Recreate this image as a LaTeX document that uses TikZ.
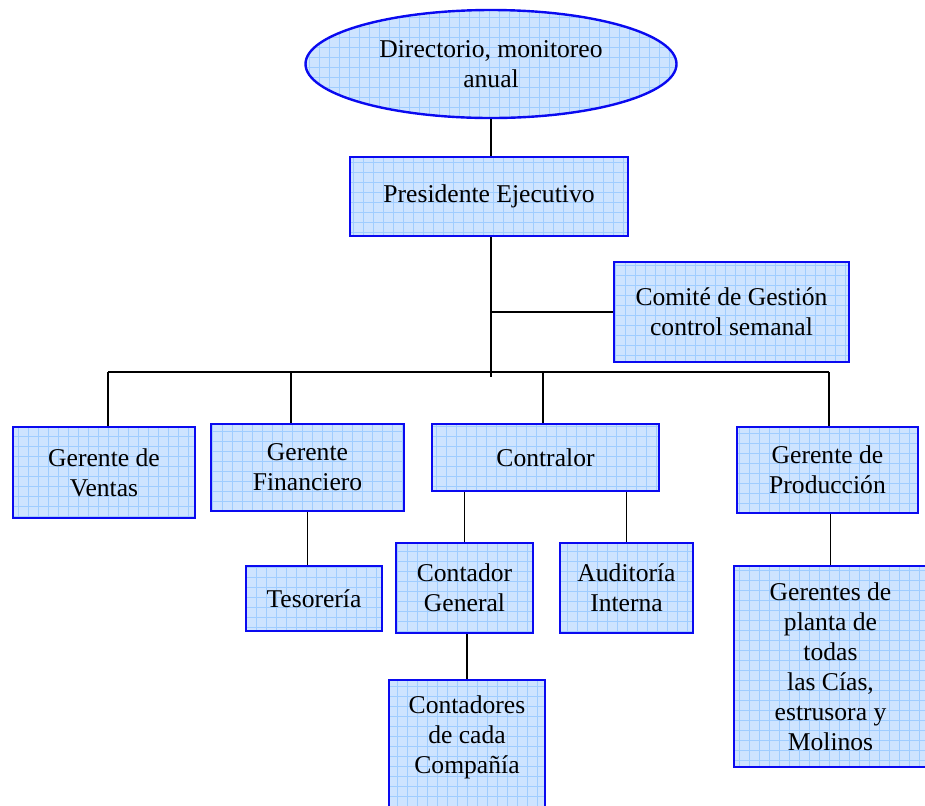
\documentclass[tikz,border=0pt]{standalone}
\usepackage{fontspec}
\setmainfont{Liberation Serif}
\usetikzlibrary{shapes.geometric}

\definecolor{fondo}{RGB}{206,228,255}
\definecolor{rejilla}{RGB}{160,205,255}
\definecolor{borde}{RGB}{10,10,240}

\begin{document}
\begin{tikzpicture}[x=0.5pt,y=-0.5pt,thick,
  caja/.style={rectangle,draw=borde,line width=1.2pt,fill=fondo,align=center,inner sep=0pt,
    font=\fontsize{12.8}{15}\selectfont,
    path picture={\draw[rejilla,line width=0.3pt] ([shift={(-2pt,-2pt)}]path picture bounding box.south west)
      grid[step=5pt] (path picture bounding box.north east);}},
  elipse/.style={caja,ellipse}]

 \useasboundingbox (0,0) rectangle (925,805);

 \node[elipse,minimum width=185.5pt,minimum height=54pt] (dir) at (491,64) {Directorio, monitoreo\\anual};
 \node[caja,minimum width=139pt,minimum height=39.5pt] (pres) at (489,196.5) {Presidente Ejecutivo};
 \node[caja,minimum width=117.5pt,minimum height=50pt] (comite) at (731.5,312) {Comité de Gestión\\control semanal};

 \node[caja,minimum width=91pt,minimum height=45.5pt] (ventas) at (104,472.5) {Gerente de\\Ventas};
 \node[caja,minimum width=96.5pt,minimum height=43.5pt] (financ) at (307.5,467.5) {Gerente\\Financiero};
 \node[caja,minimum width=113.5pt,minimum height=33.5pt] (contralor) at (545.5,457.5) {Contralor};
 \node[caja,minimum width=90.5pt,minimum height=43pt] (prod) at (827.5,470) {Gerente de\\Producción};

 \node[caja,minimum width=68pt,minimum height=32.5pt] (teso) at (314,598.5) {Tesorería};
 \node[caja,minimum width=68.5pt,minimum height=45pt] (contador) at (464.5,588) {Contador\\General};
 \node[caja,minimum width=66.5pt,minimum height=45pt] (auditoria) at (626.5,588) {Auditoría\\Interna};
 \node[caja,minimum width=78pt,minimum height=66pt,
   label={[font=\fontsize{12.8}{15}\selectfont,align=center,yshift=4.5pt]center:Contadores\\de cada\\Compañía}]
   (contadores) at (467,746) {};
 \node[caja,minimum width=96.5pt,minimum height=100.5pt] (planta) at (830.5,666.5)
   {Gerentes de\\planta de\\todas\\las Cías,\\estrusora y\\Molinos};

 % barra horizontal
 \coordinate (b1) at (108,372);
 \coordinate (b2) at (291,372);
 \coordinate (b3) at (543,372);
 \coordinate (b4) at (829,372);
 \coordinate (fin) at (491,377);

 \draw (dir.south) -- (dir.south |- pres.north);
 \draw (pres.south -| dir.south) -- (fin);
 \draw (fin |- comite.west) -- (comite.west);
 \draw (b1) -- (b4);
 \draw (b1) -- (b1 |- ventas.north);
 \draw (b2) -- (b2 |- financ.north);
 \draw (b3) -- (b3 |- contralor.north);
 \draw (b4) -- (b4 |- prod.north);

 \draw (financ.south) -- (financ.south |- teso.north);
 \draw (contador.north |- contralor.south) -- (contador.north);
 \draw (auditoria.north |- contralor.south) -- (auditoria.north);
 \draw (contadores.north |- contador.south) -- (contadores.north);
 \draw (planta.north |- prod.south) -- (planta.north);

\end{tikzpicture}
\end{document}
